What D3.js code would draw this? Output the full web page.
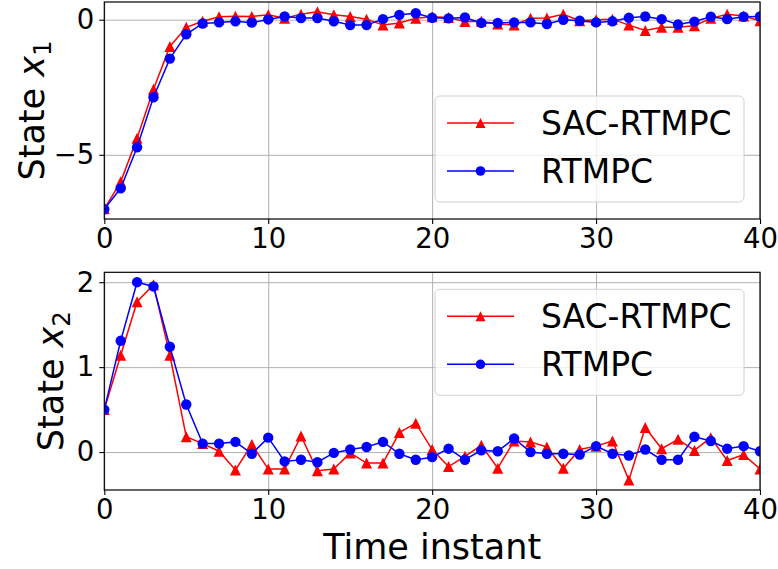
<!DOCTYPE html>
<html>
<head>
<meta charset="utf-8">
<script src="https://cdn.jsdelivr.net/npm/d3@7"></script>
<style>
  body { margin: 0; background: #fff; }
  text { font-family: "DejaVu Sans", sans-serif; fill: #000; }
</style>
</head>
<body>
<svg id="chart" width="778" height="569"></svg>
<script>
/* time instants and states */
var timeInstant = [0, 1, 2, 3, 4, 5, 6, 7, 8, 9, 10, 11, 12, 13, 14, 15, 16, 17, 18, 19, 20,
  21, 22, 23, 24, 25, 26, 27, 28, 29, 30, 31, 32, 33, 34, 35, 36, 37, 38, 39, 40];

var sacX1 = [-7.0, -6.0, -4.39, -2.57, -0.99, -0.28, -0.06, 0.11, 0.13, 0.12, 0.18,
  0.05, 0.2, 0.29, 0.18, 0.12, 0.02, -0.2, -0.12, 0.05, 0.11,
  0.08, -0.07, -0.06, -0.16, -0.2, 0.05, 0.06, 0.2, -0.04, 0.0,
  0.02, -0.2, -0.4, -0.28, -0.28, -0.22, 0.05, 0.2, 0.14, -0.04];
var rtmpcX1 = [-7.01, -6.24, -4.72, -2.87, -1.44, -0.54, -0.14, -0.1, -0.06, -0.11, 0.01,
  0.12, 0.06, 0.06, -0.06, -0.2, -0.2, 0.02, 0.18, 0.24, 0.07,
  0.05, 0.08, -0.12, -0.12, -0.1, -0.1, -0.16, 0.0, -0.04, -0.1,
  -0.06, 0.07, 0.12, 0.02, -0.18, -0.07, 0.11, 0.02, 0.11, 0.12];

var sacX2 = [0.5, 1.14, 1.77, 1.97, 1.14, 0.18, 0.1, 0.01, -0.21, 0.09, -0.2,
  -0.2, 0.19, -0.22, -0.2, -0.01, -0.13, -0.13, 0.23, 0.34, 0.03,
  -0.17, -0.05, 0.08, -0.19, 0.13, 0.12, 0.06, -0.19, 0.03, 0.07,
  0.13, -0.33, 0.29, 0.04, 0.15, 0.02, 0.17, -0.1, -0.03, -0.2];
var rtmpcX2 = [0.5, 1.31, 2.0, 1.95, 1.24, 0.56, 0.1, 0.1, 0.12, -0.02, 0.17,
  -0.11, -0.09, -0.12, -0.01, 0.03, 0.06, 0.12, -0.02, -0.09, -0.06,
  0.04, -0.09, 0.02, 0.01, 0.16, 0.0, -0.02, -0.02, -0.03, 0.07,
  -0.02, -0.04, 0.03, -0.09, -0.09, 0.18, 0.13, 0.04, 0.07, 0.01];

var xTicks = [0, 10, 20, 30, 40];
var yTicksX1 = [-5, 0];
var yTicksX2 = [0, 1, 2];
var seriesNames = ["SAC-RTMPC", "RTMPC"];

var svg = d3.select("#chart");
var left = 104.3, right = 760;
var tickFont = 27.5, labelFont = 35, legendFont = 33;

var xScale = d3.scaleLinear()
  .domain([0, 40])
  .range([left, right]);

// matplotlib style 5% margins
function paddedDomain(a, b) {
  var lo = Math.min(d3.min(a), d3.min(b)), hi = Math.max(d3.max(a), d3.max(b));
  var pad = (hi - lo) * 0.05;
  return [lo - pad, hi + pad];
}

function trianglePath(s) {
  return "M0," + (-s) + "L" + (-s) + "," + s + "L" + s + "," + s + "Z";
}

function drawPanel(cfg) {
  var top = cfg.top, bottom = cfg.bottom;
  var yScale = d3.scaleLinear()
    .domain(paddedDomain(cfg.red, cfg.blue))
    .range([bottom, top]);

  var g = svg.append("g");

  g.append("defs").append("clipPath")
    .attr("id", cfg.id)
    .append("rect")
    .attr("x", left).attr("y", top)
    .attr("width", right - left).attr("height", bottom - top);

  // grid
  g.append("g")
    .attr("transform", "translate(0," + bottom + ")")
    .call(d3.axisBottom(xScale).tickValues(xTicks).tickSize(-(bottom - top)).tickFormat(""))
    .call(function (s) {
      s.select(".domain").remove();
      s.selectAll("line").attr("stroke", "#b0b0b0").attr("stroke-width", 1);
    });
  g.append("g")
    .attr("transform", "translate(" + left + ",0)")
    .call(d3.axisLeft(yScale).tickValues(cfg.yTicks).tickSize(-(right - left)).tickFormat(""))
    .call(function (s) {
      s.select(".domain").remove();
      s.selectAll("line").attr("stroke", "#b0b0b0").attr("stroke-width", 1);
    });

  var line = d3.line()
    .x(function (d, i) { return xScale(timeInstant[i]); })
    .y(function (d) { return yScale(d); });

  var plot = g.append("g").attr("clip-path", "url(#" + cfg.id + ")");

  plot.append("path")
    .datum(cfg.red)
    .attr("d", line)
    .attr("fill", "none")
    .attr("stroke", "red")
    .attr("stroke-width", 1.5);
  plot.selectAll(".tri")
    .data(cfg.red)
    .enter()
    .append("path")
    .attr("class", "tri")
    .attr("transform", function (d, i) {
      return "translate(" + xScale(timeInstant[i]) + "," + yScale(d) + ")";
    })
    .attr("d", trianglePath(5.5))
    .attr("fill", "red");

  plot.append("path")
    .datum(cfg.blue)
    .attr("d", line)
    .attr("fill", "none")
    .attr("stroke", "blue")
    .attr("stroke-width", 1.5);
  plot.selectAll(".dot")
    .data(cfg.blue)
    .enter()
    .append("circle")
    .attr("class", "dot")
    .attr("cx", function (d, i) { return xScale(timeInstant[i]); })
    .attr("cy", function (d) { return yScale(d); })
    .attr("r", 5.2)
    .attr("fill", "blue");

  // spines
  g.append("rect")
    .attr("x", left).attr("y", top)
    .attr("width", right - left).attr("height", bottom - top)
    .attr("fill", "none")
    .attr("stroke", "#000")
    .attr("stroke-width", 1.2);

  // ticks
  g.append("g")
    .attr("transform", "translate(0," + bottom + ")")
    .call(d3.axisBottom(xScale).tickValues(xTicks).tickSize(5).tickPadding(4))
    .call(function (s) {
      s.select(".domain").remove();
      s.selectAll("line").attr("stroke", "#000").attr("stroke-width", 1.1);
      s.selectAll("text")
        .style("font-size", tickFont + "px")
        .attr("font-family", "DejaVu Sans")
        .attr("fill", "#000");
    });
  g.append("g")
    .attr("transform", "translate(" + left + ",0)")
    .call(d3.axisLeft(yScale).tickValues(cfg.yTicks).tickSize(5).tickPadding(5)
      .tickFormat(function (d) { return d < 0 ? "\u2212" + Math.abs(d) : d; }))
    .call(function (s) {
      s.select(".domain").remove();
      s.selectAll("line").attr("stroke", "#000").attr("stroke-width", 1.1);
      s.selectAll("text")
        .style("font-size", tickFont + "px")
        .attr("font-family", "DejaVu Sans")
        .attr("fill", "#000");
    });

  // y label
  var yl = g.append("text")
    .attr("transform", "translate(" + cfg.ylabelX + "," + (top + bottom) / 2 + ") rotate(-90)")
    .attr("text-anchor", "middle")
    .style("font-size", labelFont + "px");
  yl.append("tspan").text("State ");
  yl.append("tspan").style("font-style", "italic").text("x");
  yl.append("tspan").attr("dy", 7).style("font-size", (labelFont * 0.7) + "px").text(cfg.sub);

  // legend
  var lw = 309, lh = 106;
  var lx = right - 16 - lw;
  var ly = cfg.legendBottom ? bottom - 17 - lh : top + 17;
  var lg = g.append("g").attr("transform", "translate(" + lx + "," + ly + ")");
  lg.append("rect")
    .attr("width", lw).attr("height", lh)
    .attr("rx", 5)
    .attr("fill", "#fff").attr("fill-opacity", 0.8)
    .attr("stroke", "#d0d0d0").attr("stroke-width", 1);

  var rows = lg.selectAll(".row")
    .data(seriesNames)
    .enter()
    .append("g")
    .attr("transform", function (d, i) { return "translate(0," + (27 + i * 48) + ")"; });
  rows.append("line")
    .attr("x1", 12).attr("x2", 79)
    .attr("stroke", function (d, i) { return i === 0 ? "red" : "blue"; })
    .attr("stroke-width", 1.5);
  rows.filter(function (d, i) { return i === 0; })
    .append("path")
    .attr("transform", "translate(45.5,0)")
    .attr("d", trianglePath(5))
    .attr("fill", "red");
  rows.filter(function (d, i) { return i === 1; })
    .append("circle")
    .attr("cx", 45.5).attr("r", 4.8)
    .attr("fill", "blue");
  rows.append("text")
    .attr("x", 106)
    .attr("y", 12)
    .style("font-size", legendFont + "px")
    .text(function (d) { return d; });
}

drawPanel({ id: "clipTop", top: 2, bottom: 219, red: sacX1, blue: rtmpcX1,
  yTicks: yTicksX1, sub: "1", ylabelX: 44, legendBottom: true });
drawPanel({ id: "clipBottom", top: 272.3, bottom: 490, red: sacX2, blue: rtmpcX2,
  yTicks: yTicksX2, sub: "2", ylabelX: 63, legendBottom: false });

svg.append("text")
  .attr("x", (left + right) / 2)
  .attr("y", 559)
  .attr("text-anchor", "middle")
  .style("font-size", labelFont + "px")
  .text("Time instant");
</script>
</body>
</html>
